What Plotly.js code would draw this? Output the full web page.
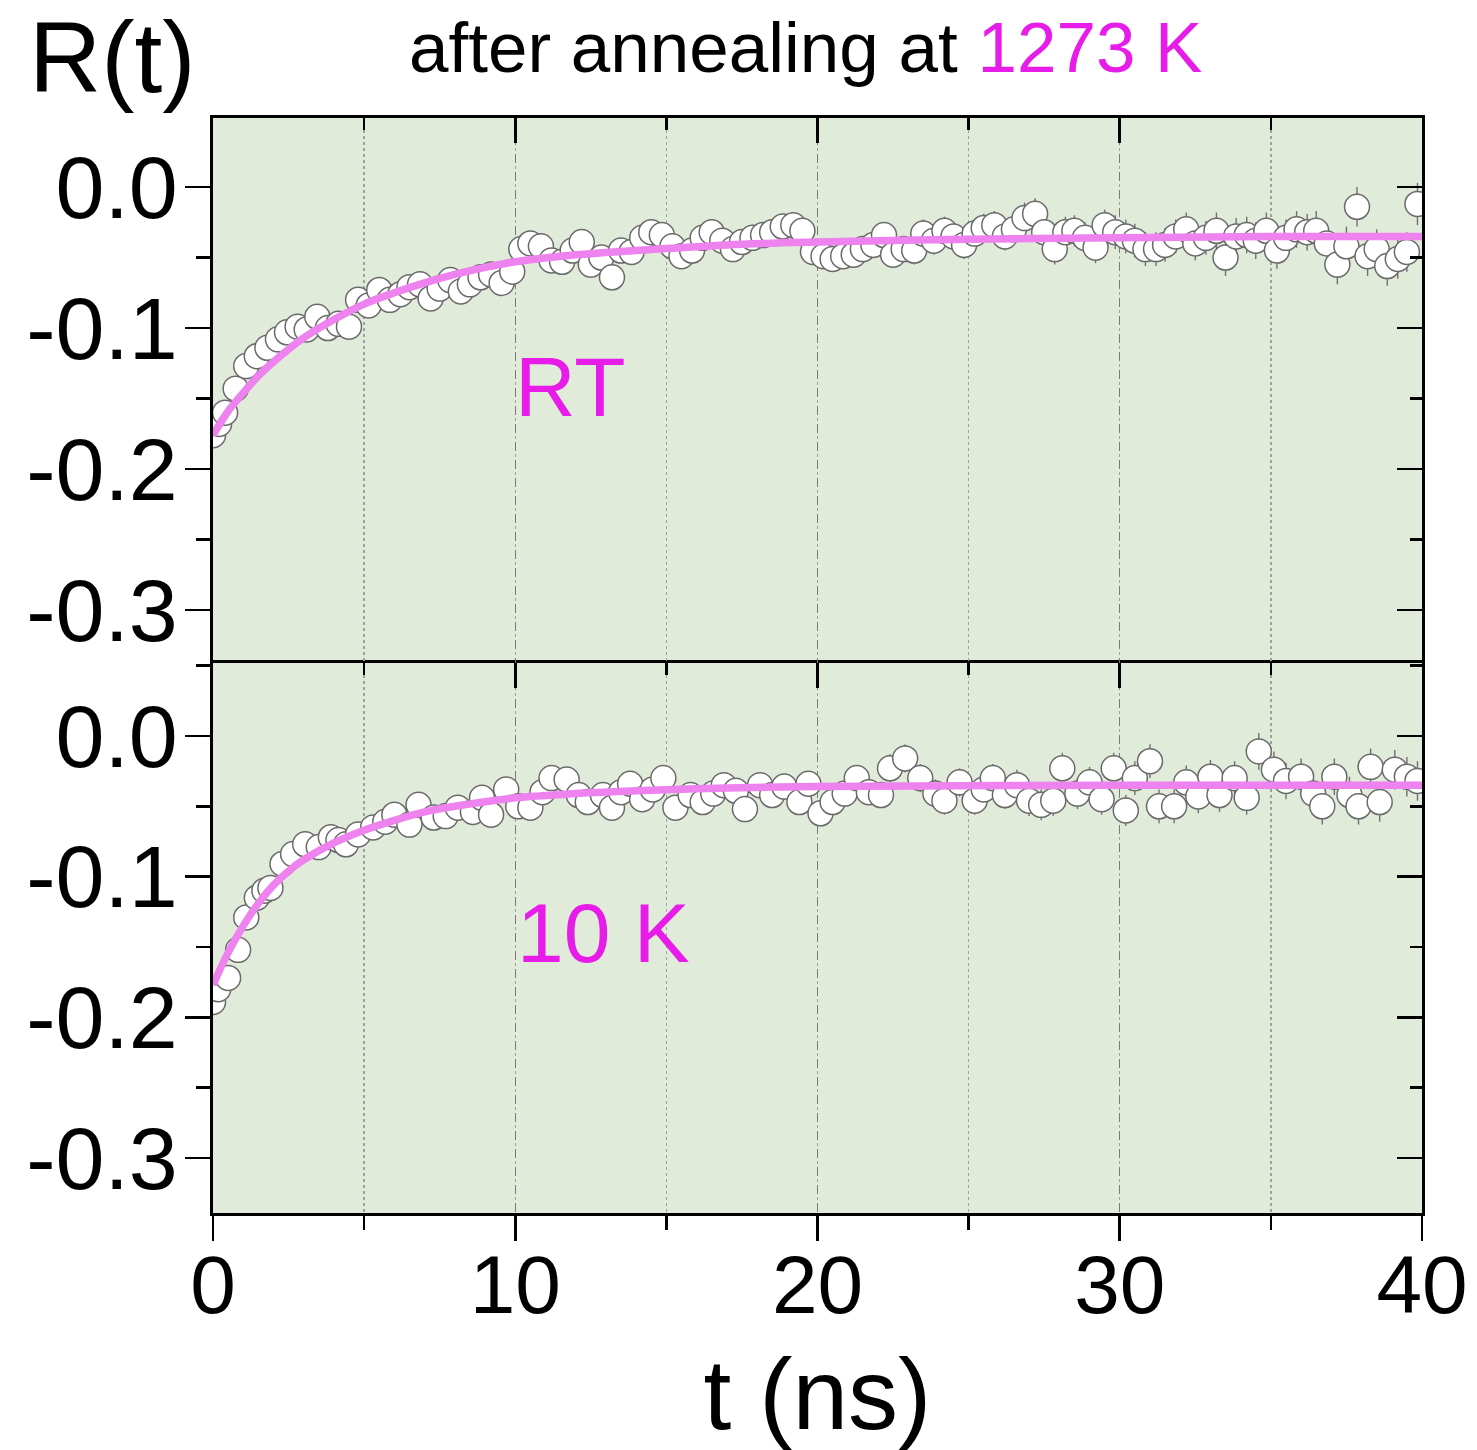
<!DOCTYPE html>
<html>
<head>
<meta charset="utf-8">
<script src="https://cdn.plot.ly/plotly-3.0.1.min.js"></script>
<style>body{margin:0;background:#fff}#chart{width:1477px;height:1450px}</style>
</head>
<body>
<div id="chart"></div>
<script>
// ---- Room temperature (top panel) ----
const rtTime = [
 0.00,0.20,0.40,0.75,1.10,1.45,1.80,2.15,2.45,2.80,
 3.10,3.45,3.80,4.15,4.50,4.80,5.15,5.50,5.85,6.20,
 6.50,6.85,7.20,7.50,7.85,8.20,8.50,8.85,9.20,9.55,
 9.90,10.20,10.50,10.85,11.20,11.55,11.90,12.20,12.50,12.85,
 13.20,13.50,13.85,14.20,14.50,14.85,15.20,15.50,15.85,16.20,
 16.50,16.85,17.20,17.50,17.85,18.20,18.50,18.85,19.20,19.50,
 19.85,20.20,20.50,20.85,21.20,21.50,21.85,22.20,22.50,22.85,
 23.20,23.50,23.85,24.20,24.50,24.85,25.20,25.50,25.85,26.20,
 26.50,26.85,27.20,27.50,27.85,28.20,28.50,28.85,29.20,29.50,
 29.85,30.20,30.50,30.85,31.20,31.50,31.85,32.20,32.50,32.85,
 33.20,33.50,33.85,34.20,34.50,34.85,35.20,35.50,35.85,36.20,
 36.50,36.85,37.20,37.50,37.85,38.20,38.50,38.85,39.20,39.50,
 39.85];
const rtValue = [
 -0.176,-0.168,-0.160,-0.143,-0.127,-0.120,-0.114,-0.108,-0.103,-0.099,
 -0.101,-0.092,-0.100,-0.097,-0.099,-0.080,-0.084,-0.073,-0.080,-0.076,
 -0.071,-0.069,-0.079,-0.072,-0.066,-0.074,-0.069,-0.064,-0.062,-0.068,
 -0.060,-0.044,-0.040,-0.042,-0.052,-0.053,-0.045,-0.039,-0.055,-0.050,
 -0.064,-0.045,-0.046,-0.036,-0.032,-0.034,-0.042,-0.049,-0.045,-0.036,
 -0.032,-0.038,-0.044,-0.039,-0.036,-0.034,-0.032,-0.028,-0.027,-0.031,
 -0.046,-0.049,-0.051,-0.049,-0.048,-0.044,-0.041,-0.034,-0.048,-0.044,
 -0.045,-0.033,-0.038,-0.031,-0.035,-0.041,-0.033,-0.029,-0.027,-0.035,
 -0.030,-0.022,-0.019,-0.032,-0.044,-0.032,-0.031,-0.036,-0.043,-0.027,
 -0.032,-0.035,-0.038,-0.044,-0.044,-0.041,-0.035,-0.030,-0.040,-0.036,
 -0.031,-0.050,-0.035,-0.034,-0.038,-0.031,-0.045,-0.036,-0.030,-0.032,
 -0.031,-0.040,-0.055,-0.042,-0.014,-0.049,-0.044,-0.056,-0.051,-0.046,
 -0.012];
const rtError = [
 0.004,0.004,0.004,0.004,0.004,0.004,0.004,0.004,0.004,0.004,
 0.005,0.005,0.005,0.005,0.005,0.005,0.005,0.005,0.005,0.005,
 0.005,0.005,0.005,0.005,0.005,0.005,0.005,0.005,0.005,0.005,
 0.006,0.006,0.006,0.006,0.006,0.006,0.006,0.006,0.006,0.006,
 0.007,0.007,0.007,0.007,0.007,0.007,0.007,0.007,0.007,0.007,
 0.008,0.008,0.008,0.008,0.008,0.008,0.008,0.008,0.008,0.008,
 0.009,0.009,0.009,0.009,0.009,0.009,0.009,0.009,0.009,0.009,
 0.010,0.010,0.010,0.010,0.010,0.010,0.010,0.010,0.010,0.010,
 0.011,0.011,0.011,0.011,0.011,0.011,0.011,0.011,0.011,0.011,
 0.012,0.012,0.012,0.012,0.012,0.012,0.012,0.012,0.012,0.012,
 0.013,0.013,0.013,0.013,0.013,0.013,0.013,0.013,0.013,0.013,
 0.014,0.014,0.014,0.014,0.014,0.014,0.014,0.014,0.014,0.014,
 0.015];
const rtFitTime  = [0,0.5,1,1.5,2,2.5,3,4,5,6,7,8,9,10,12,14,17,20,25,30,35,40];
const rtFitValue = [-0.176,-0.159,-0.146,-0.134,-0.124,-0.115,-0.107,-0.094,-0.083,-0.075,-0.068,-0.062,-0.057,-0.053,-0.048,-0.045,-0.041,-0.039,-0.037,-0.036,-0.035,-0.035];

// ---- 10 K (bottom panel) ----
const lowTime = [
 0.00,0.17,0.50,0.83,1.10,1.45,1.70,1.90,2.30,2.65,
 3.05,3.50,3.90,4.15,4.40,4.80,5.30,5.70,6.00,6.50,
 6.80,7.30,7.70,8.10,8.60,8.90,9.20,9.70,10.10,10.50,
 10.90,11.20,11.70,12.10,12.40,12.90,13.20,13.50,13.80,14.20,
 14.55,14.90,15.30,15.80,16.20,16.55,16.90,17.30,17.60,18.10,
 18.50,18.90,19.40,19.70,20.10,20.50,20.90,21.30,21.70,22.10,
 22.40,22.90,23.40,23.90,24.20,24.70,25.20,25.50,25.80,26.20,
 26.60,27.00,27.40,27.80,28.10,28.60,29.00,29.40,29.80,30.20,
 30.50,31.00,31.30,31.80,32.20,32.60,33.00,33.30,33.80,34.20,
 34.60,35.10,35.50,36.00,36.40,36.70,37.10,37.60,37.90,38.30,
 38.60,39.10,39.50,39.85];
const lowValue = [
 -0.189,-0.180,-0.172,-0.152,-0.129,-0.115,-0.110,-0.108,-0.091,-0.084,
 -0.077,-0.079,-0.072,-0.074,-0.077,-0.070,-0.065,-0.061,-0.056,-0.063,
 -0.049,-0.058,-0.057,-0.051,-0.054,-0.044,-0.056,-0.038,-0.050,-0.051,
 -0.040,-0.030,-0.031,-0.042,-0.047,-0.042,-0.051,-0.040,-0.034,-0.045,
 -0.038,-0.030,-0.051,-0.042,-0.047,-0.041,-0.035,-0.039,-0.052,-0.035,
 -0.042,-0.036,-0.047,-0.034,-0.055,-0.047,-0.041,-0.030,-0.040,-0.042,
 -0.023,-0.016,-0.030,-0.041,-0.046,-0.033,-0.046,-0.038,-0.030,-0.042,
 -0.035,-0.046,-0.049,-0.046,-0.023,-0.041,-0.033,-0.045,-0.023,-0.053,
 -0.030,-0.018,-0.050,-0.050,-0.033,-0.043,-0.029,-0.042,-0.030,-0.044,
 -0.011,-0.024,-0.032,-0.029,-0.041,-0.050,-0.029,-0.042,-0.050,-0.022,
 -0.047,-0.024,-0.029,-0.032];
const lowError = [
 0.004,0.004,0.004,0.004,0.004,0.004,0.004,0.004,0.004,0.004,
 0.005,0.005,0.005,0.005,0.005,0.005,0.005,0.005,0.005,0.005,
 0.006,0.006,0.006,0.006,0.006,0.006,0.006,0.006,0.006,0.006,
 0.007,0.007,0.007,0.007,0.007,0.007,0.007,0.007,0.007,0.007,
 0.008,0.008,0.008,0.008,0.008,0.008,0.008,0.008,0.008,0.008,
 0.009,0.009,0.009,0.009,0.009,0.009,0.009,0.009,0.009,0.009,
 0.010,0.010,0.010,0.010,0.010,0.010,0.010,0.010,0.010,0.010,
 0.011,0.011,0.011,0.011,0.011,0.011,0.011,0.011,0.011,0.011,
 0.012,0.012,0.012,0.012,0.012,0.012,0.012,0.012,0.012,0.012,
 0.013,0.013,0.013,0.013,0.013,0.013,0.013,0.013,0.013,0.013,
 0.014,0.014,0.014,0.014];
const lowFitTime  = [0,0.5,1,1.5,2,2.5,3,4,5,6,7,8,10,12,14,17,20,30,40];
const lowFitValue = [-0.177,-0.154,-0.135,-0.119,-0.106,-0.096,-0.088,-0.076,-0.067,-0.060,-0.054,-0.050,-0.044,-0.041,-0.039,-0.037,-0.036,-0.035,-0.035];

// ---- axis ticks / labels ----
const xTickVals = [0,10,20,30,40];
const xTickText = ['0','10','20','30','40'];
const yTickVals = [-0.3,-0.2,-0.1,0.0];
const yTickText = ['-0.3','-0.2','-0.1','0.0'];
const panelLabels = ['RT','10 K'];
const titleText = 'after annealing at ';
const titleTemp = '1273 K';

const FONT = 'Liberation Sans, Arial, Helvetica, sans-serif';
const MAGENTA = '#e81ce8';
const FIT = '#ee82ee';
const BG = '#e1ebda';

function dataTrace(x, y, e, xa, ya) {
  return {
    x: x, y: y, xaxis: xa, yaxis: ya, type: 'scatter', mode: 'markers',
    marker: {symbol: 'circle', size: 25, color: '#ffffff', line: {color: '#6a6a6a', width: 1.5}},
    error_y: {type: 'data', array: e, visible: true, color: '#707070', thickness: 1.4, width: 0},
    showlegend: false, hoverinfo: 'x+y'
  };
}
function fitTrace(x, y, xa, ya) {
  return {
    x: x, y: y, xaxis: xa, yaxis: ya, type: 'scatter', mode: 'lines',
    line: {color: FIT, width: 7.5, shape: 'spline', smoothing: 1.0},
    showlegend: false, hoverinfo: 'skip'
  };
}

const traces = [
  dataTrace(rtTime, rtValue, rtError, 'x2', 'y2'),
  fitTrace(rtFitTime, rtFitValue, 'x2', 'y2'),
  dataTrace(lowTime, lowValue, lowError, 'x', 'y'),
  fitTrace(lowFitTime, lowFitValue, 'x', 'y'),
  // empty traces to realise the mirror (frame) axes
  {x: [], y: [], xaxis: 'x3', yaxis: 'y', type: 'scatter', showlegend: false},
  {x: [], y: [], xaxis: 'x', yaxis: 'y3', type: 'scatter', showlegend: false},
  {x: [], y: [], xaxis: 'x2', yaxis: 'y4', type: 'scatter', showlegend: false}
];

const split = 550 / 1095;
const XR = [0, 40];
const YR_TOP = [-0.3376, 0.049];
const YR_BOT = [-0.339, 0.0518];

const lineCommon = {showline: true, linecolor: '#000', linewidth: 2.6, zeroline: false, automargin: false};

const layout = {
  width: 1477, height: 1450,
  margin: {l: 213, r: 55, t: 118, b: 237, pad: 0},
  paper_bgcolor: '#ffffff', plot_bgcolor: BG,
  font: {family: FONT, color: '#000'},
  showlegend: false,
  xaxis: Object.assign({}, lineCommon, {
    domain: [0, 1], anchor: 'y', range: XR, side: 'bottom',
    tickmode: 'array', tickvals: xTickVals, ticktext: xTickText,
    ticks: 'outside', ticklen: 25, tickwidth: 2.6, tickcolor: '#000',
    ticklabelstandoff: -26,
    tickfont: {size: 82, family: FONT, color: '#000'},
    showgrid: true, gridcolor: '#7a7a7a', griddash: 'dash', gridwidth: 1.4,
    minor: {tickmode: 'linear', tick0: 0, dtick: 5, ticks: 'outside', ticklen: 14, tickwidth: 2.6, tickcolor: '#000',
            showgrid: true, gridcolor: '#a0a0a0', griddash: 'dot', gridwidth: 1.3},
    title: {text: 't (ns)', font: {size: 100, family: FONT, color: '#000'}, standoff: 34}
  }),
  xaxis2: Object.assign({}, lineCommon, {
    domain: [0, 1], anchor: 'y2', range: XR, side: 'top', matches: 'x',
    tickmode: 'array', tickvals: xTickVals, showticklabels: false,
    ticks: 'inside', ticklen: 25, tickwidth: 2.6, tickcolor: '#000',
    showgrid: true, gridcolor: '#7a7a7a', griddash: 'dash', gridwidth: 1.4,
    minor: {tickmode: 'linear', tick0: 0, dtick: 5, ticks: 'inside', ticklen: 12, tickwidth: 2.6, tickcolor: '#000',
            showgrid: true, gridcolor: '#a0a0a0', griddash: 'dot', gridwidth: 1.3}
  }),
  xaxis3: Object.assign({}, lineCommon, {
    overlaying: 'x', anchor: 'y', side: 'top', range: XR, matches: 'x',
    tickmode: 'array', tickvals: xTickVals, showticklabels: false,
    ticks: 'inside', ticklen: 25, tickwidth: 2.6, tickcolor: '#000', showgrid: false,
    minor: {tickmode: 'linear', tick0: 0, dtick: 5, ticks: 'inside', ticklen: 12, tickwidth: 2.6, tickcolor: '#000', showgrid: false}
  }),
  yaxis: Object.assign({}, lineCommon, {
    domain: [0, split], anchor: 'x', range: YR_BOT, side: 'left',
    tickmode: 'array', tickvals: yTickVals, ticktext: yTickText,
    ticks: 'outside', ticklen: 25, tickwidth: 2.6, tickcolor: '#000',
    ticklabelstandoff: -10,
    tickfont: {size: 88, family: FONT, color: '#000'}, showgrid: false,
    minor: {tickmode: 'linear', tick0: 0, dtick: 0.05, ticks: 'outside', ticklen: 14, tickwidth: 2.6, tickcolor: '#000', showgrid: false}
  }),
  yaxis2: Object.assign({}, lineCommon, {
    domain: [split, 1], anchor: 'x2', range: YR_TOP, side: 'left',
    tickmode: 'array', tickvals: yTickVals, ticktext: yTickText,
    ticks: 'outside', ticklen: 25, tickwidth: 2.6, tickcolor: '#000',
    ticklabelstandoff: -10,
    tickfont: {size: 88, family: FONT, color: '#000'}, showgrid: false,
    minor: {tickmode: 'linear', tick0: 0, dtick: 0.05, ticks: 'outside', ticklen: 14, tickwidth: 2.6, tickcolor: '#000', showgrid: false}
  }),
  yaxis3: Object.assign({}, lineCommon, {
    overlaying: 'y', anchor: 'x', side: 'right', range: YR_BOT, matches: 'y',
    tickmode: 'array', tickvals: yTickVals, showticklabels: false,
    ticks: 'inside', ticklen: 25, tickwidth: 2.6, tickcolor: '#000', showgrid: false,
    minor: {tickmode: 'linear', tick0: 0, dtick: 0.05, ticks: 'inside', ticklen: 12, tickwidth: 2.6, tickcolor: '#000', showgrid: false}
  }),
  yaxis4: Object.assign({}, lineCommon, {
    overlaying: 'y2', anchor: 'x2', side: 'right', range: YR_TOP, matches: 'y2',
    tickmode: 'array', tickvals: yTickVals, showticklabels: false,
    ticks: 'inside', ticklen: 25, tickwidth: 2.6, tickcolor: '#000', showgrid: false,
    minor: {tickmode: 'linear', tick0: 0, dtick: 0.05, ticks: 'inside', ticklen: 12, tickwidth: 2.6, tickcolor: '#000', showgrid: false}
  }),
  annotations: [
    {xref: 'paper', yref: 'paper', x: -0.0835, y: 1.056, xanchor: 'center', yanchor: 'middle',
     text: 'R(t)', showarrow: false, font: {size: 100, family: FONT, color: '#000'}},
    {xref: 'paper', yref: 'paper', x: 0.4897, y: 1.0645, xanchor: 'center', yanchor: 'middle',
     text: titleText + '<span style="color:' + MAGENTA + '">' + titleTemp + '</span>',
     showarrow: false, font: {size: 71, family: FONT, color: '#000'}},
    {xref: 'x2', yref: 'y2', x: 9.93, y: -0.142, xanchor: 'left', yanchor: 'middle',
     text: panelLabels[0], showarrow: false, font: {size: 84, family: FONT, color: MAGENTA}},
    {xref: 'x', yref: 'y', x: 10.0, y: -0.140, xanchor: 'left', yanchor: 'middle',
     text: panelLabels[1], showarrow: false, font: {size: 84, family: FONT, color: MAGENTA}}
  ]
};

Plotly.newPlot('chart', traces, layout, {displayModeBar: false, staticPlot: true});
</script>
</body>
</html>
